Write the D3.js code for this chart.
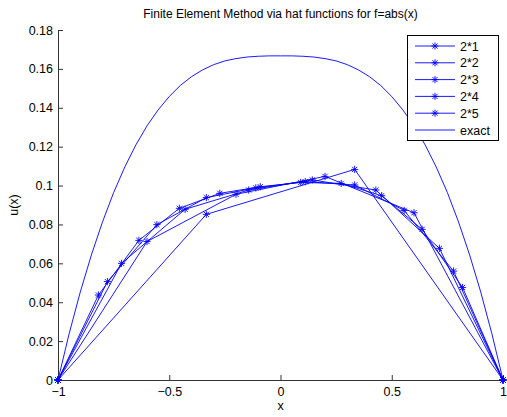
<!DOCTYPE html>
<html>
<head>
<meta charset="utf-8">
<script src="https://cdn.jsdelivr.net/npm/d3@7"></script>
<style>
  body { margin: 0; background: #fff; }
  text { font-family: "Liberation Sans", Arial, sans-serif; }
</style>
</head>
<body>
<div id="chart"></div>
<script>
// FEM nodal values, one array per mesh
const x1 = [-1, -0.3333, 0.3333, 1]
const u1 = [0, 0.0852, 0.1083, 0]
const x2 = [-1, -0.6, -0.2, 0.2, 0.6, 1]
const u2 = [0, 0.0712, 0.0955, 0.1047, 0.0860, 0]
const x3 = [-1, -0.7143, -0.4286, -0.1429, 0.1429, 0.4286, 0.7143, 1]
const u3 = [0, 0.0600, 0.0878, 0.0977, 0.1029, 0.0977, 0.0677, 0]
const x4 = [-1, -0.7778, -0.5556, -0.3333, -0.1111, 0.1111, 0.3333, 0.5556, 0.7778, 1]
const u4 = [0, 0.0506, 0.0799, 0.0938, 0.0988, 0.1020, 0.1003, 0.0872, 0.0560, 0]
const x5 = [-1, -0.8182, -0.6364, -0.4545, -0.2727, -0.0909, 0.0909, 0.2727, 0.4545, 0.6364, 0.8182, 1]
const u5 = [0, 0.0437, 0.0718, 0.0883, 0.0960, 0.0994, 0.1016, 0.1011, 0.0948, 0.0775, 0.0476, 0]

// exact curve
const xe = [-1, -0.95, -0.9, -0.85, -0.8, -0.75, -0.7, -0.65, -0.6, -0.55, -0.5, -0.45, -0.4, -0.35, -0.3, -0.25, -0.2, -0.15, -0.1, -0.05,
  0, 0.05, 0.1, 0.15, 0.2, 0.25, 0.3, 0.35, 0.4, 0.45, 0.5, 0.55, 0.6, 0.65, 0.7, 0.75, 0.8, 0.85, 0.9, 0.95, 1]
const ue = [0, 0.0238, 0.0452, 0.0643, 0.0813, 0.0964, 0.1095, 0.1209, 0.1307, 0.1389, 0.1458, 0.1515, 0.1560, 0.1595, 0.1622, 0.1641, 0.1653, 0.1661, 0.1665, 0.1667,
  0.1667, 0.1667, 0.1665, 0.1661, 0.1653, 0.1641, 0.1622, 0.1595, 0.1560, 0.1515, 0.1458, 0.1389, 0.1307, 0.1209, 0.1095, 0.0964, 0.0813, 0.0643, 0.0452, 0.0238, 0]

const names = ['2*1', '2*2', '2*3', '2*4', '2*5', 'exact']
const xTicks = [-1, -0.5, 0, 0.5, 1]
const yTicks = [0, 0.02, 0.04, 0.06, 0.08, 0.1, 0.12, 0.14, 0.16, 0.18]

const W = 507
const H = 417
const margin = { top: 30, right: 4, bottom: 37, left: 58 }
const blue = '#0000ff'

const svg = d3.select('#chart')
  .append('svg')
  .attr('width', W)
  .attr('height', H)

const x = d3.scaleLinear().domain([-1, 1]).range([margin.left, W - margin.right])
const y = d3.scaleLinear().domain([0, 0.18]).range([H - margin.bottom, margin.top])

const fmtY = (d) => d === 0 ? '0' : d3.format('.2~f')(d)

const xAxis = svg.append('g')
  .attr('transform', `translate(0,${y(0)})`)
  .call(d3.axisBottom(x).tickValues(xTicks).tickSize(-5).tickSizeOuter(0).tickPadding(7).tickFormat(d3.format('~g')))
const yAxis = svg.append('g')
  .attr('transform', `translate(${x(-1)},0)`)
  .call(d3.axisLeft(y).tickValues(yTicks).tickSize(-5).tickSizeOuter(0).tickPadding(5).tickFormat(fmtY))

svg.selectAll('.domain, .tick line').attr('stroke', '#333')
svg.selectAll('.tick text').attr('font-size', 12.5).attr('fill', '#000')

svg.append('text')
  .attr('x', (x(-1) + x(1)) / 2)
  .attr('y', 18)
  .attr('text-anchor', 'middle')
  .attr('font-size', 12)
  .text('Finite Element Method via hat functions for f=abs(x)')

svg.append('text')
  .attr('x', (x(-1) + x(1)) / 2)
  .attr('y', 410)
  .attr('text-anchor', 'middle')
  .attr('font-size', 12.5)
  .text('x')

svg.append('text')
  .attr('transform', `translate(18,${(y(0) + y(0.18)) / 2}) rotate(-90)`)
  .attr('text-anchor', 'middle')
  .attr('font-size', 12.5)
  .text('u(x)')

const star = (r) => {
  const d = r * 0.72
  return `M${-r},0L${r},0M0,${-r}L0,${r}M${-d},${-d}L${d},${d}M${-d},${d}L${d},${-d}`
}

const line = d3.line().x((d) => x(d[0])).y((d) => y(d[1]))
const series = [[x1, u1], [x2, u2], [x3, u3], [x4, u4], [x5, u5]]

series.forEach(([xs, us]) => {
  const pts = xs.map((v, i) => [v, us[i]])
  svg.append('path')
    .attr('d', line(pts))
    .attr('fill', 'none')
    .attr('stroke', blue)
    .attr('stroke-width', 0.9)
  svg.append('g').selectAll('path')
    .data(pts)
    .enter()
    .append('path')
    .attr('transform', (d) => `translate(${x(d[0])},${y(d[1])})`)
    .attr('d', star(3.6))
    .attr('stroke', blue)
    .attr('stroke-width', 0.9)
})

svg.append('path')
  .attr('d', line(xe.map((v, i) => [v, ue[i]])))
  .attr('fill', 'none')
  .attr('stroke', blue)
  .attr('stroke-width', 0.9)

// legend
const lg = svg.append('g')
lg.append('rect')
  .attr('x', 407.5)
  .attr('y', 35.5)
  .attr('width', 91)
  .attr('height', 105)
  .attr('fill', '#fff')
  .attr('stroke', '#000')

names.forEach((n, i) => {
  const yy = 46 + i * 16.8
  lg.append('line')
    .attr('x1', 415).attr('x2', 455)
    .attr('y1', yy).attr('y2', yy)
    .attr('stroke', blue)
    .attr('stroke-width', 0.9)
  if (i < 5) {
    lg.append('path')
      .attr('transform', `translate(435,${yy})`)
      .attr('d', star(3.6))
      .attr('stroke', blue)
      .attr('stroke-width', 0.9)
  }
  lg.append('text')
    .attr('x', 460)
    .attr('y', yy + 4.5)
    .attr('font-size', 12.5)
    .text(n)
})
</script>
</body>
</html>
